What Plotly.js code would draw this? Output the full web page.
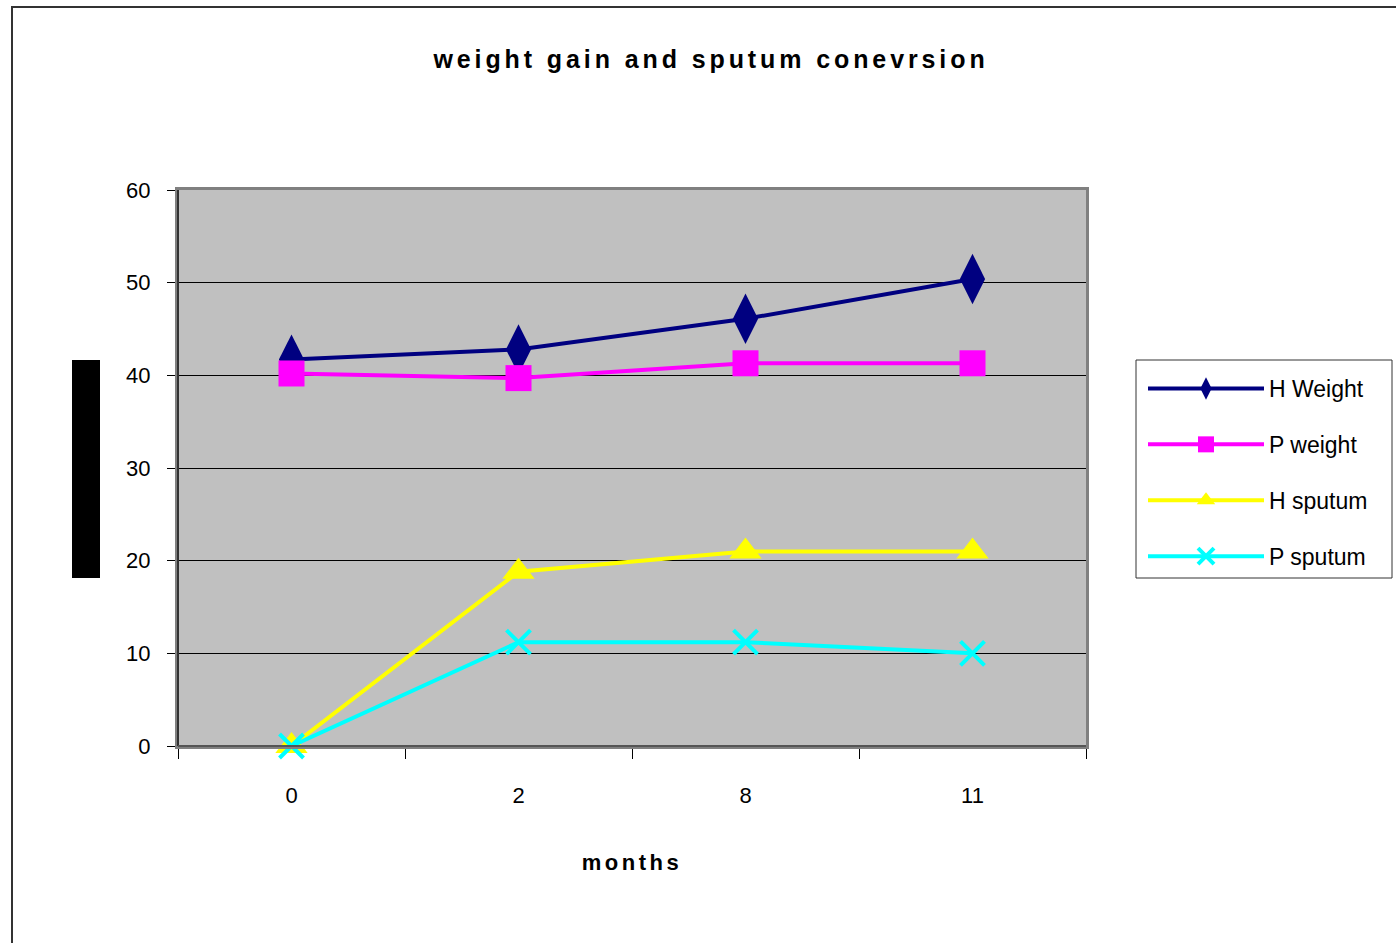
<!DOCTYPE html>
<html>
<head>
<meta charset="utf-8">
<script src="https://cdn.plot.ly/plotly-3.0.1.min.js"></script>
<style>
  html, body { margin: 0; padding: 0; background: #fff; }
  #chart { width: 1396px; height: 943px; }
  /* the original chart has loose letter spacing */
  #chart .gtitle { letter-spacing: 3.9px; }
  #chart .xtitle { letter-spacing: 3.5px; }
</style>
</head>
<body>
<div id="chart"></div>
<script>
// months (category axis)
const months = ["0", "2", "8", "11"];

// series
const hWeight = [41.7, 42.8, 46.1, 50.4];
const pWeight = [40.2, 39.7, 41.3, 41.3];
const hSputum = [0, 18.8, 21, 21];
const pSputum = [0, 11.2, 11.2, 10];

const seriesNames = ["H Weight", "P weight", "H sputum", "P sputum"];
const seriesColors = ["#000080", "#ff00ff", "#ffff00", "#00ffff"];
const seriesSymbols = ["diamond-tall", "square", "triangle-up", "x-thin"];
const seriesSizes = [36, 26, 28, 24];
const seriesValues = [hWeight, pWeight, hSputum, pSputum];

const font = "Arial, 'Liberation Sans', sans-serif";

const data = seriesValues.map((vals, i) => ({
  x: months,
  y: vals,
  name: seriesNames[i],
  legendgroup: "g" + i,
  type: "scatter",
  mode: "lines+markers",
  cliponaxis: false,
  line: { color: seriesColors[i], width: 4 },
  marker: {
    symbol: seriesSymbols[i],
    size: seriesSizes[i],
    color: seriesColors[i],
    line: { color: seriesColors[i], width: i === 3 ? 4 : 0 },
  },
  hoverinfo: "x+y+name",
}));

// helpers to place things in paper coords from page pixels
const L = 178, R = 1086, T = 190, B = 746;
const px = (x) => (x - L) / (R - L);
const py = (y) => (B - y) / (B - T);

const layout = {
  width: 1396,
  height: 943,
  margin: { l: L, r: 1396 - R, t: T, b: 943 - B, pad: 0 },
  paper_bgcolor: "#ffffff",
  plot_bgcolor: "#c0c0c0",
  font: { family: font, color: "#000", size: 18 },
  title: {
    text: "<b>weight gain and sputum conevrsion</b>",
    font: { family: font, size: 25, color: "#000" },
    x: 711 / 1396,
    xref: "container",
    xanchor: "center",
    y: 1 - 59 / 943,
    yref: "container",
    yanchor: "middle",
  },
  xaxis: {
    type: "category",
    range: [-0.5, 3.5],
    showgrid: false,
    zeroline: false,
    showline: true,
    linecolor: "#808080",
    linewidth: 3,
    mirror: true,
    ticks: "outside",
    tickson: "boundaries",
    ticklen: 10,
    tickcolor: "#000",
    tickwidth: 1,
    ticklabelstandoff: 28,
    tickfont: { family: font, size: 22 },
    title: {
      text: "<b>months</b>",
      font: { family: font, size: 22 },
      standoff: 48,
    },
  },
  yaxis: {
    range: [0, 60],
    dtick: 10,
    showgrid: true,
    gridcolor: "#000",
    gridwidth: 1,
    zeroline: false,
    showline: true,
    linecolor: "#808080",
    linewidth: 3,
    mirror: true,
    ticks: "outside",
    ticklen: 8,
    tickcolor: "#000",
    tickwidth: 1,
    ticklabelstandoff: 12,
    tickfont: { family: font, size: 22 },
  },
  showlegend: true,
  legend: {
    x: px(1143),
    y: py(367),
    xanchor: "left",
    yanchor: "top",
    bgcolor: "rgba(0,0,0,0)",
    borderwidth: 0,
    font: { family: font, size: 23, color: "#000" },
    itemwidth: 116,
    tracegroupgap: 23,
    traceorder: "grouped",
  },
  shapes: [
    // dark axis lines on left and bottom
    { type: "line", xref: "paper", yref: "paper", x0: 0, x1: 0, y0: 0, y1: 1,
      line: { color: "#333", width: 2 } },
    { type: "line", xref: "paper", yref: "paper", x0: 0, x1: 1, y0: 0, y1: 0,
      line: { color: "#555", width: 2 } },
    // outer chart border
    { type: "rect", xref: "paper", yref: "paper",
      x0: px(12), x1: px(1402), y0: py(950), y1: py(7),
      line: { color: "#333", width: 2 }, layer: "below" },
    // legend frame
    { type: "rect", xref: "paper", yref: "paper",
      x0: px(1136), x1: px(1392), y0: py(578), y1: py(360),
      fillcolor: "#fff", line: { color: "#333", width: 1 }, layer: "below" },
    // black block left of the y axis
    { type: "rect", xref: "paper", yref: "paper",
      x0: px(72), x1: px(100), y0: py(578), y1: py(360),
      fillcolor: "#000", line: { width: 0 } },
  ],
};

Plotly.newPlot("chart", data, layout, { displayModeBar: false, staticPlot: true });
</script>
</body>
</html>
